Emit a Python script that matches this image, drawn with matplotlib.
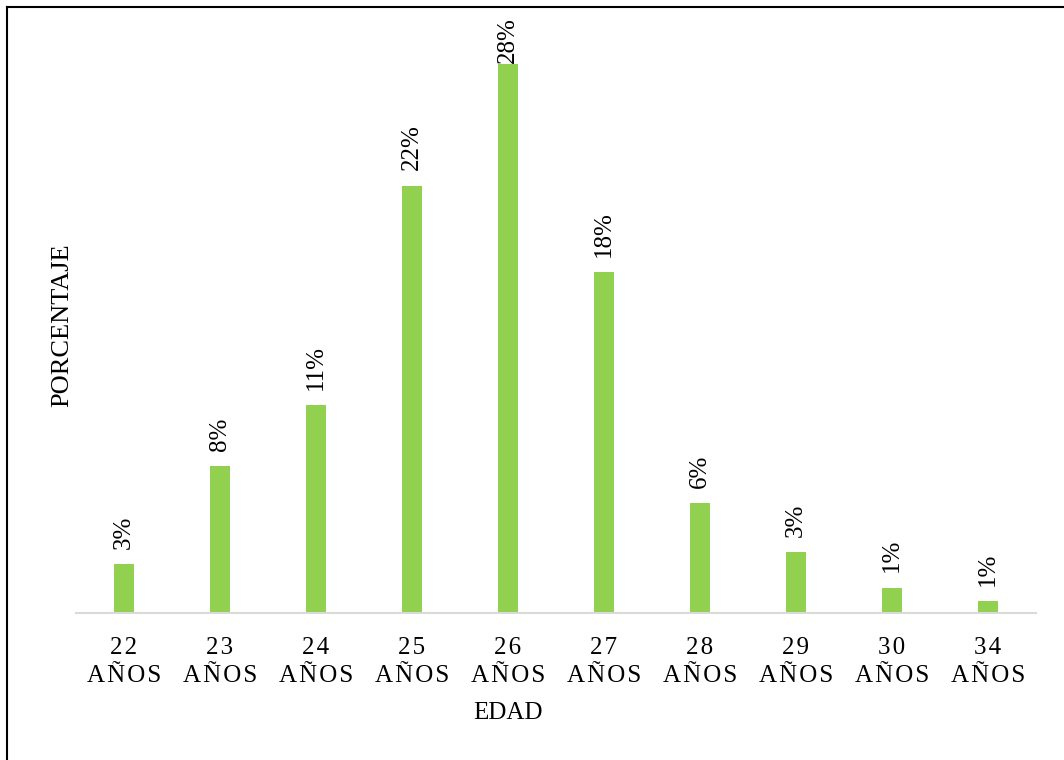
import matplotlib
matplotlib.use("Agg")
import matplotlib.pyplot as plt
from matplotlib.lines import Line2D

plt.rcParams['font.family'] = ['Liberation Serif', 'DejaVu Serif']

edades = ["22", "23", "24", "25", "26", "27", "28", "29", "30", "34"]
porcentaje = [2.5, 7.5, 10.6, 21.8, 28.0, 17.4, 5.6, 3.1, 1.3, 0.6]
etiquetas = ["3%", "8%", "11%", "22%", "28%", "18%", "6%", "3%", "1%", "1%"]

hs = "\u200a"


def espaciar(s):
    return hs.join(s)


fig = plt.figure(figsize=(10.64, 7.6), dpi=100)
ax = fig.add_axes([76 / 1064, 147 / 760, 960 / 1064, 588 / 760])

x = list(range(len(edades)))
ax.bar(x, porcentaje, width=0.2, color="#92D050", zorder=2)
ax.set_xlim(-0.5, len(edades) - 0.5)
ax.set_ylim(0, 30)

for i, (v, lab) in enumerate(zip(porcentaje, etiquetas)):
    off = 1 if v == max(porcentaje) else 11
    ax.annotate(lab, (i, v), xytext=(0, off), textcoords="offset points",
                rotation=90, ha="center", va="bottom", fontsize=18)

ax.set_xticks(x)
ax.set_xticklabels([espaciar(e) + "\n" + espaciar("AÑOS") for e in edades],
                   fontsize=18, linespacing=1.4)
ax.tick_params(axis="x", length=0, pad=17)
ax.set_yticks([])
for s in ["top", "right", "left"]:
    ax.spines[s].set_visible(False)
ax.spines["bottom"].set_color("#D9D9D9")
ax.spines["bottom"].set_linewidth(1.5)

fig.text(508 / 1064, 1 - 713 / 760, "EDAD", ha="center", va="center", fontsize=18)
fig.text(62 / 1064, 1 - 325 / 760, "PORCENTAJE", ha="center", va="center",
         rotation=90, fontsize=19)

# borde superior e izquierdo
fig.add_artist(Line2D([7 / 1064, 1], [1 - 7 / 760, 1 - 7 / 760], color="black", lw=1.5))
fig.add_artist(Line2D([7 / 1064, 7 / 1064], [0, 1 - 7 / 760], color="black", lw=1.5))

fig.savefig("out.png", dpi=100)
plt.close()
